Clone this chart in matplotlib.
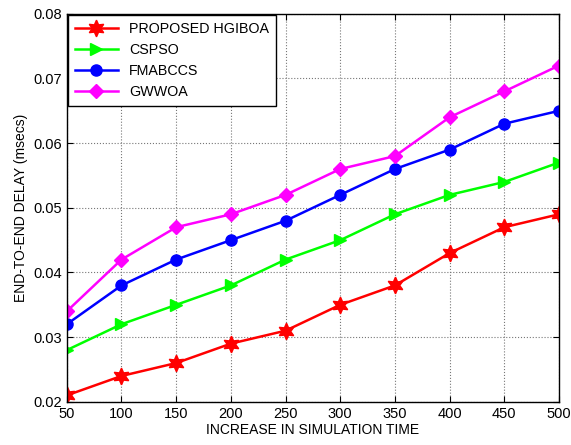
import matplotlib
matplotlib.use('Agg')
import matplotlib.pyplot as plt

plt.rcParams['font.family'] = ['Liberation Sans', 'DejaVu Sans']

sim_time = [50, 100, 150, 200, 250, 300, 350, 400, 450, 500]
hgiboa = [0.021, 0.024, 0.026, 0.029, 0.031, 0.035, 0.038, 0.043, 0.047, 0.049]
cspso = [0.028, 0.032, 0.035, 0.038, 0.042, 0.045, 0.049, 0.052, 0.054, 0.057]
fmabccs = [0.032, 0.038, 0.042, 0.045, 0.048, 0.052, 0.056, 0.059, 0.063, 0.065]
gwwoa = [0.034, 0.042, 0.047, 0.049, 0.052, 0.056, 0.058, 0.064, 0.068, 0.072]


def main():
    fig = plt.figure(figsize=(5.71, 4.45), dpi=100)
    ax = fig.add_axes([0.117, 0.097, 0.862, 0.872])

    ax.plot(sim_time, hgiboa, '-', marker=(6, 1, 0), color='red', lw=1.8, ms=12,
            label='PROPOSED HGIBOA')
    ax.plot(sim_time, cspso, '->', color='#00ff00', lw=1.8, ms=9, label='CSPSO')
    ax.plot(sim_time, fmabccs, '-o', color='blue', lw=1.8, ms=8, label='FMABCCS')
    ax.plot(sim_time, gwwoa, '-D', color='magenta', lw=1.8, ms=7, label='GWWOA')

    ax.set_xlim(50, 500)
    ax.set_ylim(0.02, 0.08)
    ax.set_xticks(sim_time)
    ax.set_yticks([0.02, 0.03, 0.04, 0.05, 0.06, 0.07, 0.08])
    ax.set_yticklabels(['0.02', '0.03', '0.04', '0.05', '0.06', '0.07', '0.08'])
    ax.tick_params(direction='in', labelsize=10.5, top=True, right=True, length=4)
    ax.grid(True, color='#777777', linestyle=':', linewidth=0.8)
    for s in ax.spines.values():
        s.set_linewidth(1.0)

    ax.set_xlabel('INCREASE IN SIMULATION TIME', fontsize=10, labelpad=2)
    ax.set_ylabel('END-TO-END DELAY (msecs)', fontsize=10, labelpad=4)

    leg = ax.legend(loc='upper left', fontsize=10.3, handlelength=3.0, borderaxespad=0.05,
                    fancybox=False, edgecolor='black', framealpha=1, labelspacing=0.5,
                    borderpad=0.5)
    leg.get_frame().set_linewidth(1.0)

    fig.savefig('out.png', dpi=100)


if __name__ == '__main__':
    main()
